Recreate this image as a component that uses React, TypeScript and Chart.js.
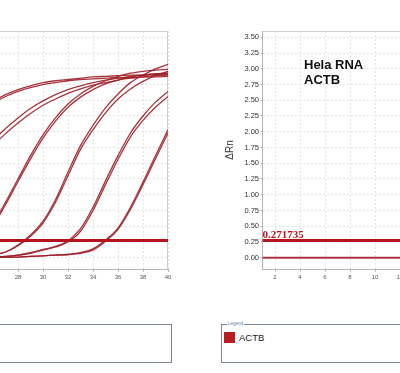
import React, { useEffect, useRef } from "react";
import { Chart, registerables } from "chart.js";

Chart.register(...registerables);

// ---- data ----
const leftCycles = [26, 27, 28, 29, 30, 31, 32, 33, 34, 35, 36, 37, 38, 39, 40];
const g1a = [2.49, 2.59, 2.67, 2.73, 2.78, 2.81, 2.83, 2.85, 2.87, 2.88, 2.89, 2.9, 2.9, 2.91, 2.91];
const g1b = [2.46, 2.56, 2.64, 2.7, 2.75, 2.78, 2.81, 2.83, 2.84, 2.85, 2.86, 2.86, 2.87, 2.87, 2.88];
const g2a = [1.86, 2.05, 2.22, 2.37, 2.49, 2.59, 2.67, 2.73, 2.78, 2.82, 2.85, 2.88, 2.9, 2.92, 2.93];
const g2b = [1.78, 1.97, 2.14, 2.29, 2.42, 2.52, 2.61, 2.68, 2.74, 2.78, 2.82, 2.85, 2.87, 2.89, 2.9];
const g3a = [0.52, 0.88, 1.25, 1.62, 1.95, 2.22, 2.44, 2.6, 2.72, 2.81, 2.88, 2.93, 2.96, 2.98, 2.99];
const g3b = [0.49, 0.84, 1.21, 1.57, 1.9, 2.17, 2.39, 2.55, 2.67, 2.76, 2.82, 2.87, 2.9, 2.92, 2.93];
const g4a = [0.04, 0.09, 0.2, 0.36, 0.58, 0.92, 1.36, 1.78, 2.1, 2.38, 2.6, 2.78, 2.9, 3.0, 3.07];
const g4b = [0.04, 0.09, 0.19, 0.34, 0.55, 0.88, 1.3, 1.72, 2.03, 2.3, 2.52, 2.68, 2.8, 2.89, 2.96];
const g5a = [0.01, 0.02, 0.04, 0.08, 0.13, 0.18, 0.27, 0.46, 0.8, 1.22, 1.62, 1.98, 2.25, 2.47, 2.64];
const g5b = [0.01, 0.02, 0.04, 0.07, 0.12, 0.17, 0.25, 0.42, 0.75, 1.16, 1.56, 1.92, 2.18, 2.39, 2.56];
const g6a = [0.0, 0.01, 0.01, 0.02, 0.03, 0.04, 0.05, 0.08, 0.14, 0.28, 0.47, 0.8, 1.2, 1.62, 2.03];
const g6b = [0.0, 0.01, 0.01, 0.02, 0.03, 0.04, 0.05, 0.07, 0.12, 0.26, 0.45, 0.77, 1.16, 1.57, 1.98];

const rightCycles = [1, 2, 3, 4, 5, 6, 7, 8, 9, 10, 11, 12, 13, 14];
const actb = [0.0, 0.0, 0.0, 0.0, 0.0, 0.0, 0.0, 0.0, 0.0, 0.0, 0.0, 0.0, 0.0, 0.0];

const threshold = 0.271735;
const thresholdText = "0.271735";
const cycleRange = [1, 40];
const yRange = [-0.18, 3.6];
const yTitle = "ΔRn";
const noteLines = ["Hela RNA", "ACTB"];
const legendTitle = "Legend";
const legendLabel = "ACTB";

// ---- styles ----
const CURVE = "rgba(158,30,40,0.9)";
const THRESH = "#b3141e";

const framePlugin = {
  id: "frame",
  beforeDatasetsDraw(chart: any) {
    const { ctx, chartArea: a } = chart;
    ctx.save();
    ctx.strokeStyle = "#cfcfcf";
    ctx.lineWidth = 1;
    ctx.beginPath();
    ctx.moveTo(a.left, a.top + 0.5);
    ctx.lineTo(a.right - 0.5, a.top + 0.5);
    ctx.lineTo(a.right - 0.5, a.bottom);
    ctx.stroke();
    ctx.restore();
  },
};

const threshLabelPlugin = {
  id: "threshLabel",
  afterDatasetsDraw(chart: any) {
    const { ctx, chartArea: a, scales } = chart;
    const y = scales.y.getPixelForValue(threshold);
    ctx.save();
    ctx.fillStyle = THRESH;
    ctx.font = "bold 11px 'Liberation Serif', 'Times New Roman', serif";
    ctx.textBaseline = "alphabetic";
    ctx.textAlign = "left";
    ctx.fillText(thresholdText, a.left, y - 2.5);
    ctx.restore();
  },
};

const notePlugin = {
  id: "note",
  afterDraw(chart: any) {
    if (!chart.options.plugins.note?.show) return;
    const { ctx } = chart;
    ctx.save();
    ctx.fillStyle = "#111";
    ctx.font = "bold 13px 'Liberation Sans', Arial, sans-serif";
    ctx.textBaseline = "alphabetic";
    noteLines.forEach((t, i) => ctx.fillText(t, 104, 69.3 + i * 15));
    ctx.restore();
  },
};

function buildConfig(series: number[][], cycles: number[], showNote: boolean, curveWidth: number): any {
  const datasets: any[] = [
    {
      label: "threshold",
      data: cycleRange.map((c) => ({ x: c, y: threshold })),
      borderColor: THRESH,
      borderWidth: 3,
      pointRadius: 0,
    },
    ...series.map((s, i) => ({
      label: "s" + i,
      data: cycles.map((c, j) => ({ x: c, y: s[j] })),
      borderColor: CURVE,
      borderWidth: curveWidth,
      pointRadius: 0,
      cubicInterpolationMode: "monotone",
    })),
  ];
  return {
    type: "line",
    data: { datasets },
    options: {
      animation: false,
      responsive: false,
      devicePixelRatio: 1,
      layout: { autoPadding: false, padding: { top: 31, right: 10, bottom: 0, left: 0 } },
      plugins: { legend: { display: false }, tooltip: { enabled: false }, note: { show: showNote } },
      scales: {
        x: {
          type: "linear",
          min: cycleRange[0],
          max: cycleRange[1],
          afterFit: (s: any) => {
            s.height = 21;
          },
          ticks: {
            stepSize: 2,
            includeBounds: false,
            color: "#555",
            padding: 2,
            maxRotation: 0,
            font: { family: "'Liberation Sans', Arial, sans-serif", size: 6 },
          },
          grid: { color: "#e4e4e4", tickLength: 3, tickColor: "#bbb" },
          border: { color: "#b5b5b5", width: 1, dash: [2, 2] },
        },
        y: {
          type: "linear",
          min: yRange[0],
          max: yRange[1],
          afterFit: (s: any) => {
            s.width = 62.5;
          },
          title: {
            display: true,
            text: yTitle,
            color: "#333",
            font: { family: "'Liberation Sans', Arial, sans-serif", size: 10 },
            padding: { top: 24.5, bottom: 0 },
          },
          ticks: {
            stepSize: 0.25,
            includeBounds: false,
            color: "#333",
            padding: 1.5,
            font: { family: "'Liberation Sans', Arial, sans-serif", size: 7.5 },
            callback: (v: any) => Number(v).toFixed(2),
          },
          grid: { color: "#e4e4e4", tickLength: 2, tickColor: "#bbb" },
          border: { color: "#b5b5b5", width: 1, dash: [2, 2] },
        },
      },
    },
    plugins: [framePlugin, threshLabelPlugin, notePlugin],
  };
}

function QpcrChart({
  left,
  series,
  cycles,
  showNote,
  curveWidth,
}: {
  left: number;
  series: number[][];
  cycles: number[];
  showNote: boolean;
  curveWidth: number;
}) {
  const ref = useRef<HTMLCanvasElement>(null);
  useEffect(() => {
    const chart = new Chart(ref.current as HTMLCanvasElement, buildConfig(series, cycles, showNote, curveWidth));
    return () => chart.destroy();
  }, []);
  return (
    <canvas
      ref={ref}
      width={560}
      height={290}
      style={{ position: "absolute", left, top: 0, width: 560, height: 290 }}
    />
  );
}

function LegendBox({ left, withItem }: { left: number; withItem: boolean }) {
  return (
    <div
      style={{
        position: "absolute",
        left,
        top: 324,
        width: 533,
        height: 39,
        boxSizing: "border-box",
        border: "1px solid #7b8794",
      }}
    >
      <span
        style={{
          position: "absolute",
          left: 5,
          top: -4,
          padding: "0 1px",
          background: "#fff",
          color: "#5a7fa8",
          fontFamily: "'Liberation Sans', Arial, sans-serif",
          fontSize: 4.5,
          lineHeight: "6px",
        }}
      >
        {legendTitle}
      </span>
      {withItem && (
        <>
          <div style={{ position: "absolute", left: 2, top: 7, width: 11, height: 11, background: "#b71c23" }} />
          <span
            style={{
              position: "absolute",
              left: 17,
              top: 8,
              fontFamily: "'Liberation Sans Narrow', 'Arial Narrow', 'Liberation Sans', sans-serif",
              fontSize: 9.5,
              lineHeight: "10px",
              color: "#222",
            }}
          >
            {legendLabel}
          </span>
        </>
      )}
    </div>
  );
}

export default function App() {
  const leftSeries = [g1a, g1b, g2a, g2b, g3a, g3b, g4a, g4b, g5a, g5b, g6a, g6b];
  return (
    <div
      style={{
        position: "fixed",
        left: 0,
        top: 0,
        width: 400,
        height: 373,
        overflow: "hidden",
        background: "#fff",
      }}
    >
      <QpcrChart left={-382} series={leftSeries} cycles={leftCycles} showNote={false} curveWidth={1.3} />
      <QpcrChart left={200} series={[actb]} cycles={rightCycles} showNote={true} curveWidth={2} />
      <LegendBox left={-361} withItem={false} />
      <LegendBox left={221} withItem={true} />
    </div>
  );
}
